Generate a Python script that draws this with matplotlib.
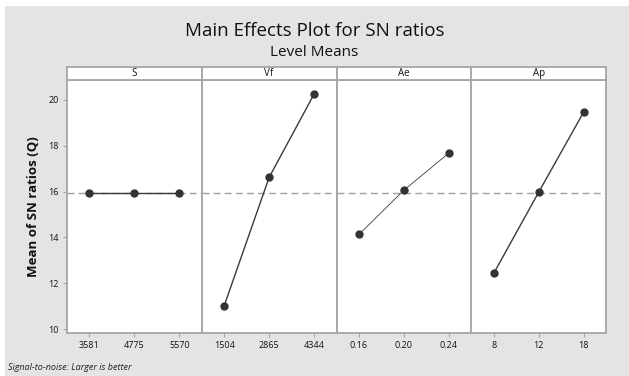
import matplotlib.pyplot as plt
from matplotlib.patches import Rectangle

# data
factors = ["S", "Vf", "Ae", "Ap"]
levels_S = ["3581", "4775", "5570"]
levels_Vf = ["1504", "2865", "4344"]
levels_Ae = ["0.16", "0.20", "0.24"]
levels_Ap = ["8", "12", "18"]
sn_S = [15.96, 15.96, 15.96]
sn_Vf = [11.02, 16.62, 20.25]
sn_Ae = [14.13, 16.06, 17.68]
sn_Ap = [12.43, 15.97, 19.46]
overall_mean = 15.96

levels = [levels_S, levels_Vf, levels_Ae, levels_Ap]
means = [sn_S, sn_Vf, sn_Ae, sn_Ap]
line_widths = [1.0, 1.0, 0.6, 1.0]

plt.rcParams["font.family"] = ["Open Sans", "DejaVu Sans"]

fig = plt.figure(figsize=(6.29, 3.76), dpi=100)
fig.patch.set_facecolor("white")
fig.patches.append(Rectangle((5 / 629, 0), 1, 1 - 6 / 376, transform=fig.transFigure,
                             facecolor="#e4e4e4", edgecolor="none", zorder=-10))

left, right = 67 / 629, 606 / 629
bottom, top = 1 - 333 / 376, 1 - 80 / 376
strip_top = 1 - 67 / 376
w = (right - left) / 4
frame_col = "#a6a6a6"

axes = []
for i, name in enumerate(factors):
    ax = fig.add_axes([left + i * w, bottom, w, top - bottom])
    x = list(range(len(levels[i])))
    ax.axhline(overall_mean, color="#a0a0a0", linestyle=(0, (5, 3)), linewidth=1.0, zorder=1)
    ax.plot(x, means[i], color="#3a3a3a", linewidth=line_widths[i], marker="o",
            markersize=5, markerfacecolor="#333333", markeredgecolor="#333333", zorder=3)
    ax.set_xlim(-0.5, 2.5)
    ax.set_ylim(9.83, 20.87)
    ax.set_xticks(x)
    ax.set_xticklabels(levels[i], fontsize=6.5, color="#111111")
    ax.set_yticks([10, 12, 14, 16, 18, 20])
    ax.tick_params(axis="both", length=3, color=frame_col, pad=3)
    if i == 0:
        ax.tick_params(axis="y", labelsize=6.5, labelcolor="#111111")
    else:
        ax.tick_params(axis="y", left=False, labelleft=False)
    for sp in ax.spines.values():
        sp.set_color(frame_col)
        sp.set_linewidth(1.3)
    axes.append(ax)

    # strip with factor name
    sax = fig.add_axes([left + i * w, top, w, strip_top - top])
    sax.set_xticks([])
    sax.set_yticks([])
    for sp in sax.spines.values():
        sp.set_color(frame_col)
        sp.set_linewidth(1.3)
    sax.text(0.5, 0.5, name, ha="center", va="center", fontsize=7, color="#111111",
             transform=sax.transAxes)

axes[0].set_ylabel("Mean of SN ratios (Q)", fontsize=9.5, color="#111111",
                   fontweight="bold", labelpad=6)

fig.text(0.5, 1 - 31 / 376, "Main Effects Plot for SN ratios", ha="center", va="center",
         fontsize=13.5, color="#111111")
fig.text(0.5, 1 - 52 / 376, "Level Means", ha="center", va="center",
         fontsize=11, color="#111111")
fig.text(8 / 629, 1 - 367 / 376, "Signal-to-noise: Larger is better", ha="left", va="center",
         fontsize=6.5, style="italic", color="#222222")

fig.savefig("out.png", dpi=100, facecolor=fig.get_facecolor())
